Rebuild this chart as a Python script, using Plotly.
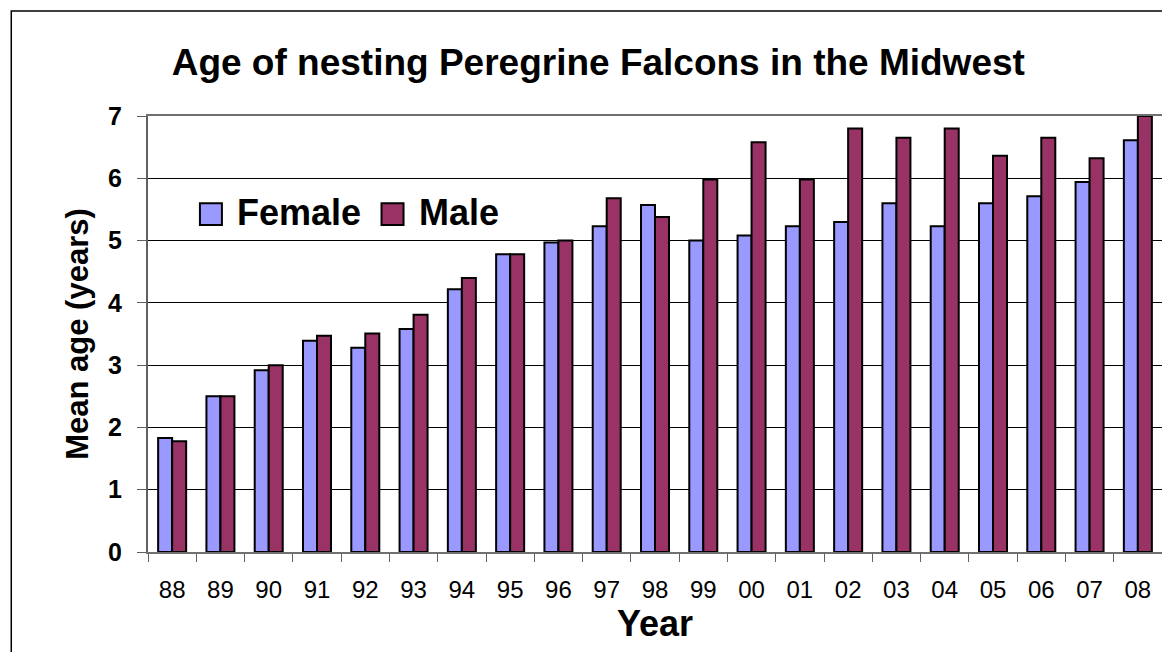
import plotly.graph_objects as go

years = ["88", "89", "90", "91", "92", "93", "94", "95", "96", "97", "98",
         "99", "00", "01", "02", "03", "04", "05", "06", "07", "08"]
female = [1.83, 2.50, 2.92, 3.39, 3.28, 3.58, 4.22, 4.78, 4.97, 5.23, 5.57,
          5.00, 5.08, 5.23, 5.30, 5.60, 5.23, 5.60, 5.71, 5.94, 6.61]
male = [1.78, 2.50, 3.00, 3.47, 3.51, 3.81, 4.40, 4.78, 5.00, 5.68, 5.38,
        5.98, 6.58, 5.98, 6.80, 6.65, 6.80, 6.36, 6.65, 6.32, 7.00]

FEMALE_COL = "#9999FF"
MALE_COL = "#993366"
FONT = "Arial, Liberation Sans, sans-serif"

fig = go.Figure()
fig.add_trace(go.Bar(x=years, y=female, name="Female", showlegend=False,
                     marker=dict(color=FEMALE_COL, line=dict(color="black", width=2))))
fig.add_trace(go.Bar(x=years, y=male, name="Male", showlegend=False,
                     marker=dict(color=MALE_COL, line=dict(color="black", width=2))))

# page body has an 8px margin, so the figure is laid out 8px smaller
fig.update_layout(
    width=1162, height=644,
    margin=dict(l=140, r=6, t=108, b=100),
    paper_bgcolor="white", plot_bgcolor="white",
    font=dict(family=FONT, color="black"),
    title=dict(text="<b>Age of nesting Peregrine Falcons in the Midwest</b>",
               x=0.508, xanchor="center", y=0.916, yanchor="middle",
               font=dict(size=37)),
    barmode="group", bargap=0.42, bargroupgap=0,
)

fig.update_xaxes(
    type="category", showline=True, linecolor="#707070", linewidth=2, mirror=True,
    ticks="outside", tickson="boundaries", ticklen=8, tickcolor="#606060",
    tickfont=dict(size=24), ticklabelstandoff=15,
    title=dict(text="<b>Year</b>", font=dict(size=36), standoff=0),
    showgrid=False,
)
fig.update_yaxes(
    range=[0, 7], dtick=1, showline=True, linecolor="#606060", linewidth=2, mirror=True,
    ticks="outside", ticklen=9, tickcolor="#606060",
    tickfont=dict(size=25, weight="bold"), ticklabelstandoff=10,
    gridcolor="black", gridwidth=1,
    title=dict(text="<b>Mean age (years)</b>", font=dict(size=31), standoff=10),
    zeroline=False,
)

# legend drawn by hand so the swatches can be large
legend_items = [("Female", FEMALE_COL, 0.0512, 0.0856),
                ("Male", MALE_COL, 0.2303, 0.2648)]
for label, col, sx, tx in legend_items:
    fig.add_shape(type="rect", xref="paper", yref="paper",
                  x0=sx, x1=sx + 0.0217, y0=0.750, y1=0.800,
                  fillcolor=col, line=dict(color="black", width=2))
    fig.add_annotation(xref="paper", yref="paper", x=tx, y=0.7787,
                       xanchor="left", yanchor="middle", showarrow=False,
                       text="<b>" + label + "</b>", font=dict(size=36))

# outer chart border
fig.add_shape(type="rect", xref="paper", yref="paper",
              x0=(3 - 140) / 1016, x1=(1200 - 140) / 1016,
              y0=-0.5, y1=1 + (108 - 3) / 436,
              line=dict(color="black", width=1.5), layer="below")

fig.write_html("out.html")
